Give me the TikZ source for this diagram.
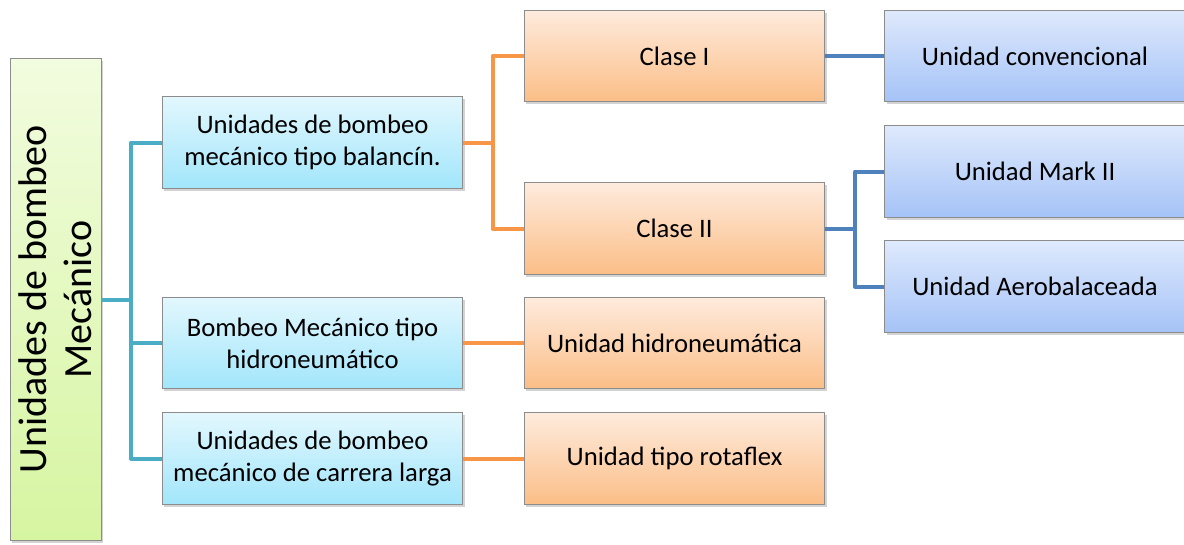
\documentclass[tikz,border=0pt]{standalone}
\usepackage{fontspec}
\setmainfont{Carlito}
\usetikzlibrary{shadows}

\definecolor{rootTop}{HTML}{F2FCDF}
\definecolor{rootBot}{HTML}{D6F5A1}
\definecolor{cyanTop}{HTML}{E2F7FD}
\definecolor{cyanBot}{HTML}{A2E6FB}
\definecolor{orTop}{HTML}{FEEBDD}
\definecolor{orBot}{HTML}{FBBE87}
\definecolor{blTop}{HTML}{DEE9FC}
\definecolor{blBot}{HTML}{A5C3F7}
\definecolor{tealLine}{HTML}{4BACC6}
\definecolor{orLine}{HTML}{F79646}
\definecolor{blLine}{HTML}{4F81BD}

\tikzset{
  box/.style={draw=black!45, line width=0.6pt, minimum width=225.5pt,
    minimum height=68.5pt, align=center, inner sep=2pt,
    font=\fontsize{20}{24}\selectfont,
    drop shadow={opacity=0.35, shadow xshift=1.5pt, shadow yshift=-1.8pt}},
  cyanbox/.style={box, top color=cyanTop, bottom color=cyanBot},
  orbox/.style={box, top color=orTop, bottom color=orBot},
  blbox/.style={box, top color=blTop, bottom color=blBot},
  link/.style={line width=3pt, line join=round}
}

\begin{document}
\begin{tikzpicture}[x=0.75pt, y=-0.75pt]
    \useasboundingbox (0,0) rectangle (1184,544);
    \clip (0,0) rectangle (1184,544);

    % Root box with rotated title
    \node[draw=black!45, line width=0.6pt, minimum width=68.25pt, minimum height=362pt,
      top color=rootTop, bottom color=rootBot,
      drop shadow={opacity=0.35, shadow xshift=1.5pt, shadow yshift=-1.8pt}]
      (root) at (55.5,299.5) {};
    \node[rotate=90, align=center, font=\fontsize{30}{33.5}\selectfont] (rootlabel)
      at (root.center) {Unidades de bombeo\\Mecánico};

    % First level
    \node[cyanbox] (balancin) at (312.5,142.5) {Unidades de bombeo\\mecánico tipo balancín.};
    \node[cyanbox] (hidro) at (312.5,343) {Bombeo Mecánico tipo\\hidroneumático};
    \node[cyanbox] (carrera) at (312.5,458.5) {Unidades de bombeo\\mecánico de carrera larga};

    % Second level
    \node[orbox] (claseI) at (674.5,56) {Clase I};
    \node[orbox] (claseII) at (674.5,228.5) {Clase II};
    \node[orbox] (uhidro) at (674.5,343) {Unidad hidroneumática};
    \node[orbox] (rotaflex) at (674.5,458.5) {Unidad tipo rotaflex};

    % Third level
    \node[blbox] (conv) at (1035,56) {Unidad convencional};
    \node[blbox] (mark) at (1035,171.5) {Unidad Mark II};
    \node[blbox] (aero) at (1035,286.5) {Unidad Aerobalaceada};

    % Teal connectors
    \coordinate (tj) at (131,299.5);
    \draw[link, tealLine] (root.east) -- (tj);
    \draw[link, tealLine] (balancin.west) -| (tj) |- (carrera.west);
    \draw[link, tealLine] (tj |- hidro.west) -- (hidro.west);

    % Orange connectors
    \coordinate (oj) at (492.5,142.5);
    \draw[link, orLine] (balancin.east) -- (oj);
    \draw[link, orLine] (claseI.west) -| (oj) |- (claseII.west);
    \draw[link, orLine] (hidro.east) -- (uhidro.west);
    \draw[link, orLine] (carrera.east) -- (rotaflex.west);

    % Blue connectors
    \coordinate (bj) at (855,228.5);
    \draw[link, blLine] (claseI.east) -- (conv.west);
    \draw[link, blLine] (claseII.east) -- (bj);
    \draw[link, blLine] (mark.west) -| (bj) |- (aero.west);
\end{tikzpicture}
\end{document}
